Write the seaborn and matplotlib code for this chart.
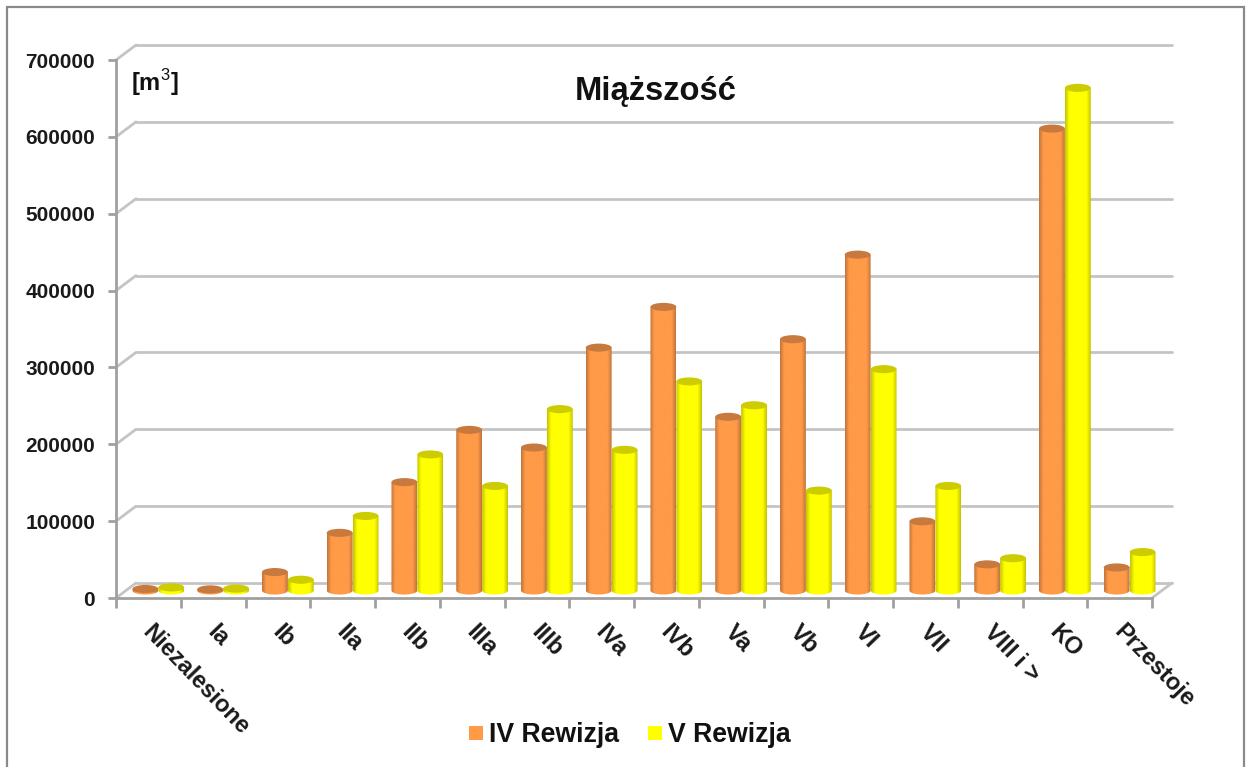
import numpy as np
import pandas as pd
import matplotlib
matplotlib.use("Agg")
import matplotlib.pyplot as plt
import matplotlib.transforms as mtrans
from matplotlib.colors import LinearSegmentedColormap
from matplotlib.patches import Ellipse, Polygon, Rectangle
import seaborn as sns

# Miazszosc by age class, two forest revisions

klasy = ["Niezalesione", "Ia", "Ib", "IIa", "IIb", "IIIa", "IIIb", "IVa",
         "IVb", "Va", "Vb", "VI", "VII", "VIII i >", "KO", "Przestoje"]
rewizja_iv = [2000, 1500, 24000, 75000, 141000, 209000, 186000, 316000,
              369000, 226000, 327000, 437000, 90000, 34000, 601000, 30000]
rewizja_v = [4000, 2500, 14000, 97000, 177000, 136000, 236000, 183000,
             272000, 241000, 130000, 288000, 136000, 42000, 654000, 50000]
y_ticks = [0, 100000, 200000, 300000, 400000, 500000, 600000, 700000]

W, H = 1249, 767
sns.set_theme(style="white")
plt.rcParams["font.family"] = ["Liberation Sans", "DejaVu Sans"]
plt.rcParams["mathtext.fontset"] = "custom"
plt.rcParams["mathtext.rm"] = "Liberation Sans"

fig = plt.figure(figsize=(W / 100, H / 100), dpi=100, facecolor="white")
fig.patches.append(Rectangle((6.5 / W, -0.02), (1237.5) / W, 1 + 0.02 - 7 / H, transform=fig.transFigure,
                             fill=False, edgecolor="#8a8a8a", linewidth=1.6))

# axes = front plane of the fake 3d box
left, right, bottom, top = 116, 1152, 598, 60
ax = fig.add_axes([left / W, 1 - bottom / H, (right - left) / W, (bottom - top) / H])
ax.set_facecolor("none")

df = pd.DataFrame({
    "klasa": klasy * 2,
    "m3": rewizja_iv + rewizja_v,
    "rewizja": ["IV Rewizja"] * len(klasy) + ["V Rewizja"] * len(klasy),
})
paleta = {"IV Rewizja": "#FF9A47", "V Rewizja": "#FFFF00"}
sns.barplot(data=df, x="klasa", y="m3", hue="rewizja", palette=paleta, width=0.8,
            saturation=1, legend=False, ax=ax)
ax.set_xlim(-0.5, 15.5)
ax.set_ylim(0, 700000)
ax.set_xlabel("")
ax.set_ylabel("")


def shifted(dx, dy):
    return ax.transData + mtrans.Affine2D().translate(dx, dy)


# back wall, floor and side diagonals
siatka = dict(color="#c4c4c4", linewidth=2, clip_on=False, solid_capstyle="round")
back = shifted(20, 15)
for v in y_ticks:
    ax.plot([-0.5, 15.5], [v, v], transform=back, zorder=0.5, **siatka)
    x0, y0 = ax.transData.transform((-0.5, v))
    ax.plot([x0, x0 + 20], [y0, y0 + 15], transform=None, zorder=0.5, **siatka)
x0, y0 = ax.transData.transform((15.5, 0))
ax.plot([x0, x0 + 20], [y0, y0 + 15], transform=None, zorder=0.5, **siatka)

# cylinders: gradient clipped to the seaborn bars, plus ellipse top
stops_o = [(0, "#C2753A"), (0.16, "#FF9A47"), (0.84, "#FF9A47"), (1, "#C2753A")]
stops_y = [(0, "#C4C400"), (0.16, "#FFFF00"), (0.84, "#FFFF00"), (1, "#C4C400")]
cmap_o = LinearSegmentedColormap.from_list("o", stops_o)
cmap_y = LinearSegmentedColormap.from_list("y", stops_y)
srodek = shifted(10, 7.5)
grad = np.linspace(0, 1, 64).reshape(1, -1)
ell_h = 10500  # ellipse height in data units, about 8 px
n = len(klasy)
for i, bar in enumerate(ax.patches[:2 * n]):
    xa, w, h = bar.get_x(), bar.get_width(), bar.get_height()
    cm = cmap_o if i < n else cmap_y
    top_col = "#C8793E" if i < n else "#CCCC00"
    t = np.linspace(np.pi, 2 * np.pi, 40)
    xs = xa + w / 2 + w / 2 * np.cos(t)
    ys = ell_h / 2 * np.sin(t)
    poly = Polygon(np.r_[np.c_[xs, ys], [[xa + w, h], [xa, h]]], closed=True,
                   transform=srodek, facecolor="none", edgecolor="none", clip_on=False)
    ax.add_patch(poly)
    im = ax.imshow(grad, cmap=cm, aspect="auto", zorder=2 + i % n * 0.01,
                   extent=(xa, xa + w, -ell_h, h + ell_h), transform=srodek)
    im.set_clip_box(fig.bbox)
    im.set_clip_path(poly)
    ax.add_patch(Ellipse((xa + w / 2, h), w, ell_h, transform=srodek, facecolor=top_col,
                         edgecolor="none", clip_on=False, zorder=2.005 + i % n * 0.01))
    bar.set_visible(False)
ax.set_xlim(-0.5, 15.5)
ax.set_ylim(0, 700000)

# axes
sns.despine(ax=ax, top=True, right=True)
for s in ["left", "bottom"]:
    ax.spines[s].set_color("#a0a0a0")
    ax.spines[s].set_linewidth(2)
ax.set_yticks(y_ticks)
ax.set_yticklabels([str(v) for v in y_ticks], fontsize=15, fontweight="bold", color="#1a1a1a")
ax.tick_params(axis="y", length=6, width=2, color="#a0a0a0", pad=9, left=True)
ax.set_xticks(np.arange(n))
ax.set_xticklabels(klasy, rotation=-46, ha="left", rotation_mode="anchor",
                   fontsize=17, fontweight="bold", color="#1a1a1a")
ax.set_xticks(np.arange(n + 1) - 0.5, minor=True)
ax.tick_params(axis="x", which="major", length=0, pad=16)
ax.tick_params(axis="x", which="minor", length=7, width=2, color="#a0a0a0", bottom=True)
for lab in ax.get_xticklabels():
    lab.set_transform(lab.get_transform() + mtrans.Affine2D().translate(6, 0))

# labels inside the plot
fig.text(131 / W, 1 - 91 / H, r"[m$^{3}$]", fontsize=17, fontweight="bold", color="#111111")
fig.text(656 / W, 1 - 100 / H, "Miąższość", fontsize=23.6, fontweight="bold",
         color="#111111", ha="center")

# legend drawn as figure artists
for kolor, xk, xt, tekst in [("#FF9A47", 469, 489, "IV Rewizja"), ("#FFFF00", 648, 668, "V Rewizja")]:
    fig.patches.append(Rectangle((xk / W, 1 - 740 / H), 14 / W, 14 / H, transform=fig.transFigure,
                                 facecolor=kolor, edgecolor="none"))
    fig.text(xt / W, 1 - 742 / H, tekst, fontsize=19.2, fontweight="bold", color="#111111")

fig.savefig("out.png", dpi=100, facecolor="white")
